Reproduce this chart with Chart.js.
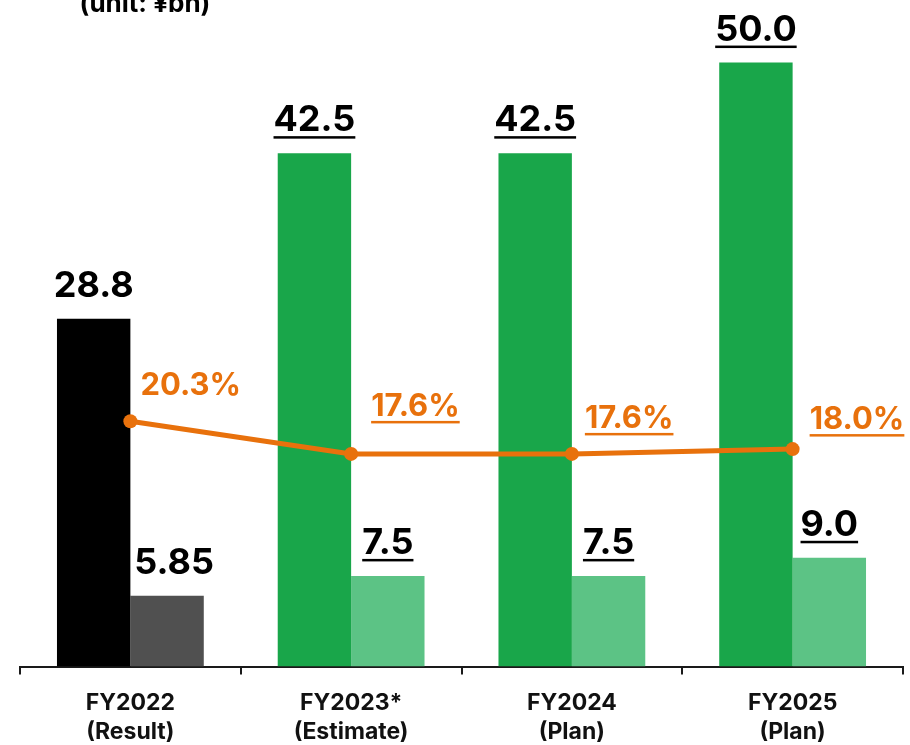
<!DOCTYPE html>
<html>
<head>
<meta charset="utf-8">
<script src="https://cdn.jsdelivr.net/npm/chart.js@4/dist/chart.umd.min.js"></script>
<style>
  html, body { margin: 0; padding: 0; background: #ffffff; }
  #wrap { width: 910px; height: 745px; position: relative; }
</style>
</head>
<body>
<div id="wrap"><canvas id="c" width="910" height="745"></canvas></div>
<script>
// Fiscal years shown on the category axis (two-line labels)
const categories = [
  ["FY2022", "(Result)"],
  ["FY2023*", "(Estimate)"],
  ["FY2024", "(Plan)"],
  ["FY2025", "(Plan)"]
];
// Revenue, ¥bn
const revenue = [28.8, 42.5, 42.5, 50.0];
// Operating profit, ¥bn
const profit = [5.85, 7.5, 7.5, 9.0];
// Operating margin, %
const margin = [20.3, 17.6, 17.6, 18.0];
// Value text shown for each bar / point
const revenueText = ["28.8", "42.5", "42.5", "50.0"];
const profitText = ["5.85", "7.5", "7.5", "9.0"];
const marginText = ["20.3%", "17.6%", "17.6%", "18.0%"];
// Plans and estimates are underlined, results are not
const underlined = [false, true, true, true];

const FONT = "Inter, Lato, sans-serif";
const ORANGE = "#e8710c";
const revenueColors = ["#000000", "#19a64a", "#19a64a", "#19a64a"];
const profitColors = ["#505050", "#5cc385", "#5cc385", "#5cc385"];

// Offsets of the margin labels from their points (left edge, baseline)
const marginLabelDx = [10, 20, 13, 17];
const marginLabelDy = [26, 38, 26, 20];
// Nudge of the profit labels so they clear the neighbouring bar
const profitLabelDx = [7, 0, 0, 0];

function drawText(ctx, text, x, y, align, color, font, underline) {
  ctx.save();
  ctx.font = font;
  ctx.fillStyle = color;
  ctx.textAlign = align;
  ctx.textBaseline = "alphabetic";
  ctx.fillText(text, x, y);
  if (underline) {
    const w = ctx.measureText(text).width;
    const left = align === "center" ? x - w / 2 : x;
    ctx.fillRect(left, y + 5, w, 2.5);
  }
  ctx.restore();
}

const labelPlugin = {
  id: "valueLabels",
  afterDatasetsDraw(chart) {
    const ctx = chart.ctx;
    const barFont = "bold 36px " + FONT;
    const pctFont = "bold 31px " + FONT;

    chart.getDatasetMeta(0).data.forEach((bar, i) => {
      drawText(ctx, revenueText[i], bar.x, bar.y - 22, "center", "#000000", barFont, underlined[i]);
    });
    chart.getDatasetMeta(1).data.forEach((bar, i) => {
      drawText(ctx, profitText[i], bar.x + profitLabelDx[i], bar.y - 22, "center", "#000000", barFont, underlined[i]);
    });

    chart.getDatasetMeta(2).data.forEach((pt, i) => {
      drawText(ctx, marginText[i], pt.x + marginLabelDx[i], pt.y - marginLabelDy[i], "left", ORANGE, pctFont, underlined[i]);
    });

    // unit note at the top-left
    drawText(ctx, "(unit: ¥bn)", 145, 12, "center", "#000000", "bold 26px " + FONT, false);
  }
};

new Chart(document.getElementById("c"), {
  type: "bar",
  data: {
    labels: categories,
    datasets: [
      {
        label: "Revenue",
        data: revenue,
        backgroundColor: revenueColors,
        borderWidth: 0,
        order: 2
      },
      {
        label: "Operating profit",
        data: profit,
        backgroundColor: profitColors,
        borderWidth: 0,
        order: 2
      },
      {
        type: "line",
        label: "Operating margin",
        data: margin,
        borderColor: ORANGE,
        backgroundColor: ORANGE,
        borderWidth: 5,
        pointRadius: 7,
        pointHoverRadius: 7,
        pointBackgroundColor: ORANGE,
        pointBorderWidth: 0,
        tension: 0,
        fill: false,
        order: 1
      }
    ]
  },
  options: {
    responsive: false,
    animation: false,
    devicePixelRatio: 1,
    layout: { padding: { left: 20, right: 5, top: 0, bottom: -15 } },
    datasets: {
      bar: { categoryPercentage: 0.665, barPercentage: 1.0 }
    },
    plugins: {
      legend: { display: false },
      tooltip: { enabled: false },
      title: { display: false }
    },
    scales: {
      x: {
        offset: true,
        grid: {
          display: true,
          offset: true,
          drawOnChartArea: false,
          drawTicks: true,
          tickLength: 8,
          color: "#1a1a1a",
          lineWidth: 2
        },
        border: { display: true, color: "#1a1a1a", width: 2 },
        ticks: {
          color: "#111111",
          padding: 14,
          font: { family: FONT, size: 23, weight: "bold", lineHeight: 1.25 },
          maxRotation: 0,
          autoSkip: false
        }
      },
      y: {
        display: false,
        min: 0,
        max: 54.6
      }
    }
  },
  plugins: [labelPlugin]
});
</script>
</body>
</html>
